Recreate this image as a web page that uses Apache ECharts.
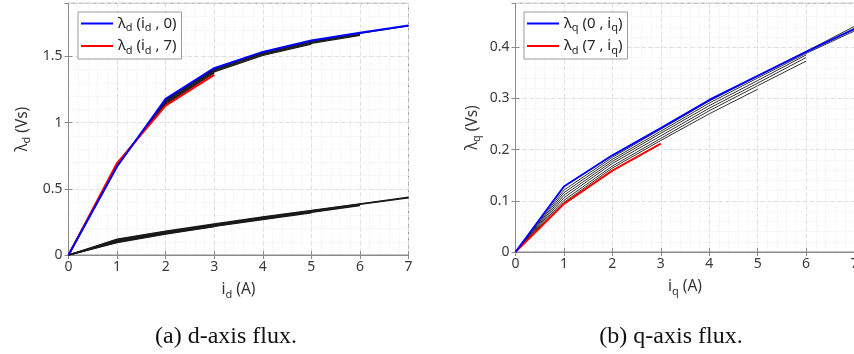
<!DOCTYPE html>
<html>
<head>
<meta charset="utf-8">
<script src="https://cdn.jsdelivr.net/npm/echarts@6/dist/echarts.min.js"></script>
<style>
html,body{margin:0;padding:0;background:#fff;}
#chart{width:854px;height:354px;}
</style>
</head>
<body>
<div id="chart"></div>
<script>
// ---------- data ----------
const xTicks = [0, 1, 2, 3, 4, 5, 6, 7];           // current (A)

// (a) d-axis flux, upper family: lambda_d(i_d, i_q)
const ldBlue = [0, 0.668, 1.178, 1.410, 1.533, 1.619, 1.677, 1.732];   // i_q = 0
const ldBlack1 = [0, 0.671, 1.172, 1.405, 1.528, 1.614, 1.672, 1.729];
const ldBlack2 = [0, 0.674, 1.166, 1.400, 1.523, 1.609, 1.666];
const ldBlack3 = [0, 0.677, 1.160, 1.395, 1.518, 1.604, 1.662];
const ldBlack4 = [0, 0.680, 1.153, 1.389, 1.512, 1.598, 1.657];
const ldBlack5 = [0, 0.684, 1.146, 1.382, 1.506, 1.592];
const ldBlack6 = [0, 0.688, 1.138, 1.374];
const ldRed = [0, 0.694, 1.127, 1.360];                                  // i_q = 7
// (a) lower family (black)
const ldLow1 = [0, 0.119, 0.180, 0.234, 0.288, 0.336, 0.386, 0.436];
const ldLow2 = [0, 0.114, 0.177, 0.230, 0.284, 0.333, 0.383, 0.432];
const ldLow3 = [0, 0.110, 0.173, 0.227, 0.280, 0.330, 0.380];
const ldLow4 = [0, 0.106, 0.169, 0.223, 0.276, 0.326, 0.376];
const ldLow5 = [0, 0.102, 0.165, 0.219, 0.272, 0.322, 0.372];
const ldLow6 = [0, 0.098, 0.161, 0.216, 0.268, 0.318];
const ldLow7 = [0, 0.093, 0.157, 0.214];

// (b) q-axis flux: lambda_q(i_d, i_q)
const lqBlue = [0, 0.128, 0.189, 0.242, 0.297, 0.344, 0.391, 0.436];    // i_d = 0
const lqBlack1 = [0, 0.121, 0.185, 0.240, 0.295, 0.344, 0.392, 0.441];
const lqBlack2 = [0, 0.116, 0.181, 0.236, 0.291, 0.340, 0.388, 0.432];
const lqBlack3 = [0, 0.111, 0.177, 0.232, 0.286, 0.335, 0.385];
const lqBlack4 = [0, 0.106, 0.173, 0.227, 0.281, 0.330, 0.380];
const lqBlack5 = [0, 0.101, 0.168, 0.222, 0.276, 0.325, 0.373];
const lqBlack6 = [0, 0.097, 0.164, 0.218, 0.270, 0.318];
const lqRed = [0, 0.094, 0.159, 0.212];                                  // i_d = 7

const yTicksD = [0, 0.5, 1, 1.5];
const yTicksQ = [0, 0.1, 0.2, 0.3, 0.4];

// ---------- helpers ----------
const pts = arr => arr.map((v, i) => [xTicks[i], v]);
const AX = '#8a8a8a';
const LBL = '#3a3a3a';
const FONT = 'Noto Sans';

function blackLine(arr, gi, w) {
  return {type: 'line', xAxisIndex: gi * 3, yAxisIndex: gi * 3, data: pts(arr),
    symbol: 'none', silent: true, z: 2,
    lineStyle: {color: '#1a1a1a', width: w}};
}
function colorLine(name, arr, gi, color) {
  return {type: 'line', name: name, xAxisIndex: gi * 3, yAxisIndex: gi * 3, data: pts(arr),
    symbol: 'none', silent: true, z: 3, color: color,
    lineStyle: {color: color, width: 2}};
}

const rich = {
  n: {fontFamily: FONT, fontSize: 15, color: '#262626', lineHeight: 20, verticalAlign: 'middle'},
  s: {fontFamily: FONT, fontSize: 11, color: '#262626', lineHeight: 9, verticalAlign: 'bottom'}
};
const richAx = {
  n: {fontFamily: FONT, fontSize: 15.5, color: '#333', lineHeight: 20, verticalAlign: 'middle'},
  s: {fontFamily: FONT, fontSize: 11, color: '#333', lineHeight: 9, verticalAlign: 'bottom'}
};

function axesFor(gi, yMax, yInt, yMinor, yName, xName, yGap) {
  const xs = [
    {gridIndex: gi, type: 'value', min: 0, max: 7, interval: 1, position: 'bottom',
     axisLine: {show: true, lineStyle: {color: AX}},
     axisTick: {show: true, inside: true, length: 4, lineStyle: {color: AX}},
     axisLabel: {color: LBL, fontFamily: FONT, fontSize: 14, margin: 5, hideOverlap: false,
                 formatter: v => xTicks.includes(v) ? String(v) : ''},
     splitLine: {show: true, lineStyle: {color: '#d9d9d9', type: [4, 3], width: 1}},
     name: xName, nameLocation: 'middle', nameGap: 25,
     nameTextStyle: {rich: richAx}},
    {gridIndex: gi, type: 'value', min: 0, max: 7, interval: 0.2, position: 'bottom',
     axisLine: {show: false}, axisTick: {show: false}, axisLabel: {show: false},
     splitLine: {show: true, lineStyle: {color: '#e8e8e8', type: [1, 2], width: 1}}},
    {gridIndex: gi, type: 'value', min: 0, max: 7, interval: 1, position: 'top',
     axisLine: {show: true, lineStyle: {color: AX}},
     axisTick: {show: true, inside: true, length: 4, lineStyle: {color: AX}},
     axisLabel: {show: false}, splitLine: {show: false}}
  ];
  const ticks = gi === 0 ? yTicksD : yTicksQ;
  const ys = [
    {gridIndex: gi, type: 'value', min: 0, max: yMax, interval: yInt, position: 'left',
     axisLine: {show: true, lineStyle: {color: AX}},
     axisTick: {show: true, inside: true, length: 4, lineStyle: {color: AX}},
     axisLabel: {color: LBL, fontFamily: FONT, fontSize: 14, margin: 6, showMaxLabel: false,
                 formatter: v => { const t = ticks.find(k => Math.abs(k - v) < 1e-9); return t === undefined ? '' : String(t); }},
     splitLine: {show: true, lineStyle: {color: '#d9d9d9', type: [4, 3], width: 1}},
     name: yName, nameLocation: 'middle', nameGap: yGap, nameRotate: 90,
     nameTextStyle: {rich: richAx}},
    {gridIndex: gi, type: 'value', min: 0, max: yMax, interval: yMinor, position: 'left',
     axisLine: {show: false}, axisTick: {show: false}, axisLabel: {show: false},
     splitLine: {show: true, lineStyle: {color: '#e8e8e8', type: [1, 2], width: 1}}},
    {gridIndex: gi, type: 'value', min: 0, max: yMax, interval: yInt, position: 'right',
     axisLine: {show: true, lineStyle: {color: AX}},
     axisTick: {show: true, inside: true, length: 4, lineStyle: {color: AX}},
     axisLabel: {show: false}, splitLine: {show: false}}
  ];
  return {xs, ys};
}

const A = axesFor(0, 1.9, 0.5, 0.1, '{n|λ}{s|d}{n| (Vs)}', '{n|i}{s|d}{n| (A)}', 36);
const B = axesFor(1, 0.486, 0.1, 0.02, '{n|λ}{s|q}{n| (Vs)}', '{n|i}{s|q}{n| (A)}', 33);

const legendText = {
  ld0: '{n|λ}{s|d}{n| (i}{s|d}{n| , 0)}',
  ld7: '{n|λ}{s|d}{n| (i}{s|d}{n| , 7)}',
  lq0: '{n|λ}{s|q}{n| (0 , i}{s|q}{n|)}',
  lq7: '{n|λ}{s|d}{n| (7 , i}{s|q}{n|)}'
};

const legendBase = {
  orient: 'vertical', itemWidth: 32, itemHeight: 2, itemGap: 5, icon: 'rect',
  backgroundColor: '#fff', borderColor: '#9a9a9a', borderWidth: 1,
  padding: [4, 5, 3, 3],
  formatter: n => legendText[n],
  textStyle: {rich: rich},
  selectedMode: false
};

const option = {
  animation: false,
  backgroundColor: '#fff',
  grid: [
    {left: 68.5, top: 3.3, width: 340, height: 251.7, show: true, borderColor: AX, borderWidth: 1,
     backgroundColor: 'transparent', outerBoundsMode: 'none', containLabel: false},
    {left: 515.5, top: 3.3, width: 339, height: 248.7, show: true, borderColor: AX, borderWidth: 1,
     backgroundColor: 'transparent', outerBoundsMode: 'none', containLabel: false}
  ],
  xAxis: A.xs.concat(B.xs),
  yAxis: A.ys.concat(B.ys),
  legend: [
    Object.assign({}, legendBase, {left: 78, top: 12, data: ['ld0', 'ld7']}),
    Object.assign({}, legendBase, {left: 524, top: 12, data: ['lq0', 'lq7']})
  ],
  series: [
    blackLine(ldLow1, 0, 1.3), blackLine(ldLow2, 0, 1.3), blackLine(ldLow3, 0, 1.3), blackLine(ldLow4, 0, 1.3),
    blackLine(ldLow5, 0, 1.3), blackLine(ldLow6, 0, 1.3), blackLine(ldLow7, 0, 1.3),
    blackLine(ldBlack1, 0, 1.2), blackLine(ldBlack2, 0, 1.2), blackLine(ldBlack3, 0, 1.2),
    blackLine(ldBlack4, 0, 1.2), blackLine(ldBlack5, 0, 1.2), blackLine(ldBlack6, 0, 1.2),
    colorLine('ld7', ldRed, 0, '#ff0000'),
    colorLine('ld0', ldBlue, 0, '#0000ff'),
    blackLine(lqBlack1, 1, 0.9), blackLine(lqBlack2, 1, 0.9), blackLine(lqBlack3, 1, 0.9),
    blackLine(lqBlack4, 1, 0.9), blackLine(lqBlack5, 1, 0.9), blackLine(lqBlack6, 1, 0.9),
    colorLine('lq7', lqRed, 1, '#ff0000'),
    colorLine('lq0', lqBlue, 1, '#0000ff')
  ],
  graphic: [
    {type: 'text', x: 226, y: 337, style: {text: '(a) d-axis flux.', font: '24px "Liberation Serif"', fill: '#111', align: 'center', verticalAlign: 'middle'}},
    {type: 'text', x: 671, y: 337, style: {text: '(b) q-axis flux.', font: '24px "Liberation Serif"', fill: '#111', align: 'center', verticalAlign: 'middle'}}
  ]
};

const chart = echarts.init(document.getElementById('chart'), null, {renderer: 'canvas'});
chart.setOption(option);
</script>
</body>
</html>
